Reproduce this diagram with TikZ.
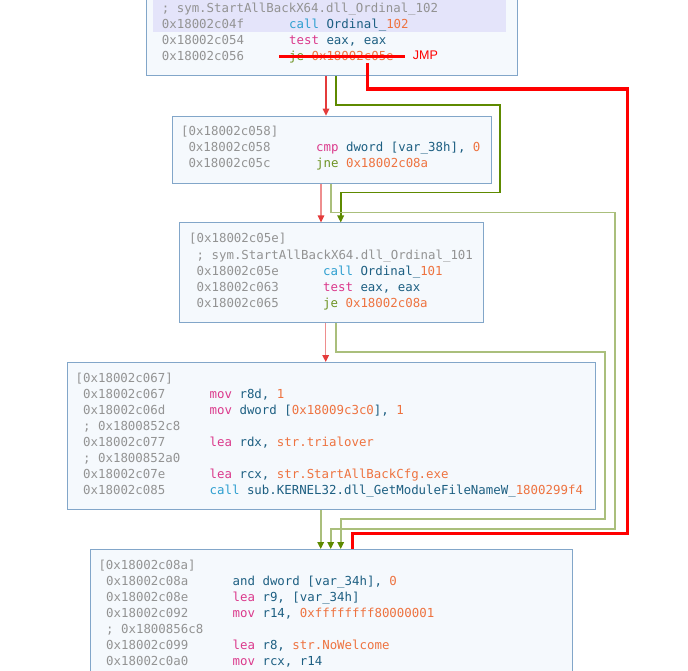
\documentclass[tikz,border=0pt]{standalone}
\usepackage{fontspec}
\newfontfamily\monof{DejaVu Sans Mono}
\newfontfamily\sansf{Liberation Sans}
\usetikzlibrary{arrows.meta,calc}
\definecolor{boxfill}{HTML}{F5F9FD}
\definecolor{boxline}{HTML}{82A6C9}
\definecolor{bandc}{HTML}{E4E4FA}
\definecolor{cgray}{HTML}{939393}
\definecolor{cmag}{HTML}{DB3A8C}
\definecolor{cop}{HTML}{1D5F82}
\definecolor{cnum}{HTML}{EE7340}
\definecolor{ccall}{HTML}{2E9FD0}
\definecolor{cjmp}{HTML}{6E9424}
\definecolor{ered}{HTML}{E43B3B}
\definecolor{eredl}{HTML}{EE8E8E}
\definecolor{egreen}{HTML}{5E8A00}
\definecolor{egreenl}{HTML}{AABF7C}
\definecolor{jred}{HTML}{FF0000}
\newcommand\Mg[1]{\textcolor{cmag}{#1}}
\newcommand\Op[1]{\textcolor{cop}{#1}}
\newcommand\Nm[1]{\textcolor{cnum}{#1}}
\newcommand\Cl[1]{\textcolor{ccall}{#1}}
\newcommand\Jp[1]{\textcolor{cjmp}{#1}}
\tikzset{
  blk/.style={draw=boxline, fill=boxfill, line width=1pt, inner sep=0pt, anchor=north west},
  txt/.style={font=\monof\fontsize{12.4}{14}\selectfont, inner sep=0pt, anchor=base west, text=cgray},
  redge/.style={draw=ered, line width=1.4pt, -{Triangle[width=6.5pt,length=7pt,color=ered]}},
  redgel/.style={draw=eredl, line width=1.4pt, -{Triangle[width=6.5pt,length=7pt,color=ered]}},
  gedge/.style={draw=egreen, line width=1.6pt, -{Triangle[width=6.5pt,length=7pt,color=egreen]}},
  gedgel/.style={draw=egreenl, line width=1.6pt, -{Triangle[width=6.5pt,length=7pt,color=egreen]}},
  jmpline/.style={draw=jred, line width=3.2pt},
}
\begin{document}
\begin{tikzpicture}[x=1pt,y=-1pt]
\useasboundingbox (0,0) rectangle (688,671);
% ---------- boxes ----------
\node[blk, minimum width=371.3pt, minimum height=100pt] (b1) at (145.7,-25) {};
\fill[bandc] (153,-5) rectangle (505.7,32);
\node[blk, minimum width=318.2pt, minimum height=67pt] (b2) at (172.3,115.7) {};
\node[blk, minimum width=304pt, minimum height=99.2pt] (b3) at (179.3,222.5) {};
\node[blk, minimum width=528pt, minimum height=147pt] (b4) at (67,362) {};
\node[blk, minimum width=482pt, minimum height=160pt] (b5) at (90,549) {};
% ---------- box 1 text ----------
\node[txt] (t1a) at (161.7,13) {; sym.StartAllBackX64.dll\_Ordinal\_102};
\node[txt] (t1b) at (161.7,29) {0x18002c04f};
\node[txt] (t1bi) at (289,29) {\Cl{call} \Op{Ordinal\_}\Nm{102}};
\node[txt] (t1c) at (161.7,45) {0x18002c054};
\node[txt] (t1ci) at (289,45) {\Mg{test} \Op{eax, eax}};
\node[txt] (t1d) at (161.7,61) {0x18002c056};
\node[txt] (t1di) at (289,61) {\Jp{je} \Nm{0x18002c05e}};
\draw[jred, line width=2.6pt] (279,56.7) -- (405,56.7);
\node[font=\sansf\fontsize{12.5}{14}\selectfont, text=jred, anchor=base west, inner sep=0pt] (jmp) at (412.7,59.5) {JMP};
% ---------- box 2 text ----------
\node[txt] (t2h) at (181,136) {[0x18002c058]};
\node[txt] (t2a) at (188.3,152) {0x18002c058};
\node[txt] (t2ai) at (316,152) {\Mg{cmp} \Op{dword [var\_38h],} \Nm{0}};
\node[txt] (t2b) at (188.3,168) {0x18002c05c};
\node[txt] (t2bi) at (316,168) {\Jp{jne} \Nm{0x18002c08a}};
% ---------- box 3 text ----------
\node[txt] (t3h) at (189,243) {[0x18002c05e]};
\node[txt] (t3a) at (196.5,259) {; sym.StartAllBackX64.dll\_Ordinal\_101};
\node[txt] (t3b) at (196.5,275) {0x18002c05e};
\node[txt] (t3bi) at (323,275) {\Cl{call} \Op{Ordinal\_}\Nm{101}};
\node[txt] (t3c) at (196.5,291) {0x18002c063};
\node[txt] (t3ci) at (323,291) {\Mg{test} \Op{eax, eax}};
\node[txt] (t3d) at (196.5,307) {0x18002c065};
\node[txt] (t3di) at (323,307) {\Jp{je} \Nm{0x18002c08a}};
% ---------- box 4 text ----------
\node[txt] (t4h) at (75.5,382) {[0x18002c067]};
\node[txt] (t4a) at (83,398) {0x18002c067};
\node[txt] (t4ai) at (209.5,398) {\Mg{mov} \Op{r8d,} \Nm{1}};
\node[txt] (t4b) at (83,414) {0x18002c06d};
\node[txt] (t4bi) at (209.5,414) {\Mg{mov} \Op{dword [}\Nm{0x18009c3c0}\Op{],} \Nm{1}};
\node[txt] (t4c) at (83,430) {; 0x1800852c8};
\node[txt] (t4d) at (83,446) {0x18002c077};
\node[txt] (t4di) at (209.5,446) {\Mg{lea} \Op{rdx,} \Nm{str.trialover}};
\node[txt] (t4e) at (83,462) {; 0x1800852a0};
\node[txt] (t4f) at (83,478) {0x18002c07e};
\node[txt] (t4fi) at (209.5,478) {\Mg{lea} \Op{rcx,} \Nm{str.StartAllBackCfg.exe}};
\node[txt] (t4g) at (83,494) {0x18002c085};
\node[txt] (t4gi) at (209.5,494) {\Cl{call} \Op{sub.KERNEL32.dll\_GetModuleFileNameW\_}\Nm{1800299f4}};
% ---------- box 5 text ----------
\node[txt] (t5h) at (98.3,569) {[0x18002c08a]};
\node[txt] (t5a) at (106,585) {0x18002c08a};
\node[txt] (t5ai) at (232.5,585) {\Op{and dword [var\_34h],} \Nm{0}};
\node[txt] (t5b) at (106,601) {0x18002c08e};
\node[txt] (t5bi) at (232.5,601) {\Mg{lea} \Op{r9, [var\_34h]}};
\node[txt] (t5c) at (106,617) {0x18002c092};
\node[txt] (t5ci) at (232.5,617) {\Mg{mov} \Op{r14,} \Nm{0xffffffff80000001}};
\node[txt] (t5d) at (106,633) {; 0x1800856c8};
\node[txt] (t5e) at (106,649) {0x18002c099};
\node[txt] (t5ei) at (232.5,649) {\Mg{lea} \Op{r8,} \Nm{str.NoWelcome}};
\node[txt] (t5f) at (106,665) {0x18002c0a0};
\node[txt] (t5fi) at (232.5,665) {\Mg{mov} \Op{rcx, r14}};
% ---------- column coordinates ----------
\coordinate (k3207) at (320.7,0);
\coordinate (k321) at (321,0);
\coordinate (k3257) at (325.7,0);
\coordinate (k326) at (326,0);
\coordinate (k3307) at (330.7,0);
\coordinate (k331) at (331,0);
\coordinate (k3357) at (335.7,0);
\coordinate (k3407) at (340.7,0);
\coordinate (k3525) at (352.5,0);
\coordinate (jmpstart) at (367.5,63);
% ---------- edges ----------
\draw[redge] (b1.south -| k326) -- (b2.north -| k326);
\draw[gedge] (b1.south -| k3357) |- (500,105) |- (340.7,192.7) -- (b3.north -| k3407);
\draw[redgel] (b2.south -| k321) -- (b3.north -| k321);
\draw[gedgel] (b2.south -| k331) |- (615,212.7) |- (330.7,529) -- (b5.north -| k3307);
\draw[redgel] (b3.south -| k3257) -- (b4.north -| k3257);
\draw[gedgel] (b3.south -| k3357) |- (605,351.7) |- (340.7,519) -- (b5.north -| k3407);
\draw[gedgel] (b4.south -| k3207) -- (b5.north -| k3207);
\draw[jmpline] (jmpstart) |- (627.5,89) |- (352.5,533.5) -- (b5.north -| k3525);
\end{tikzpicture}
\end{document}
